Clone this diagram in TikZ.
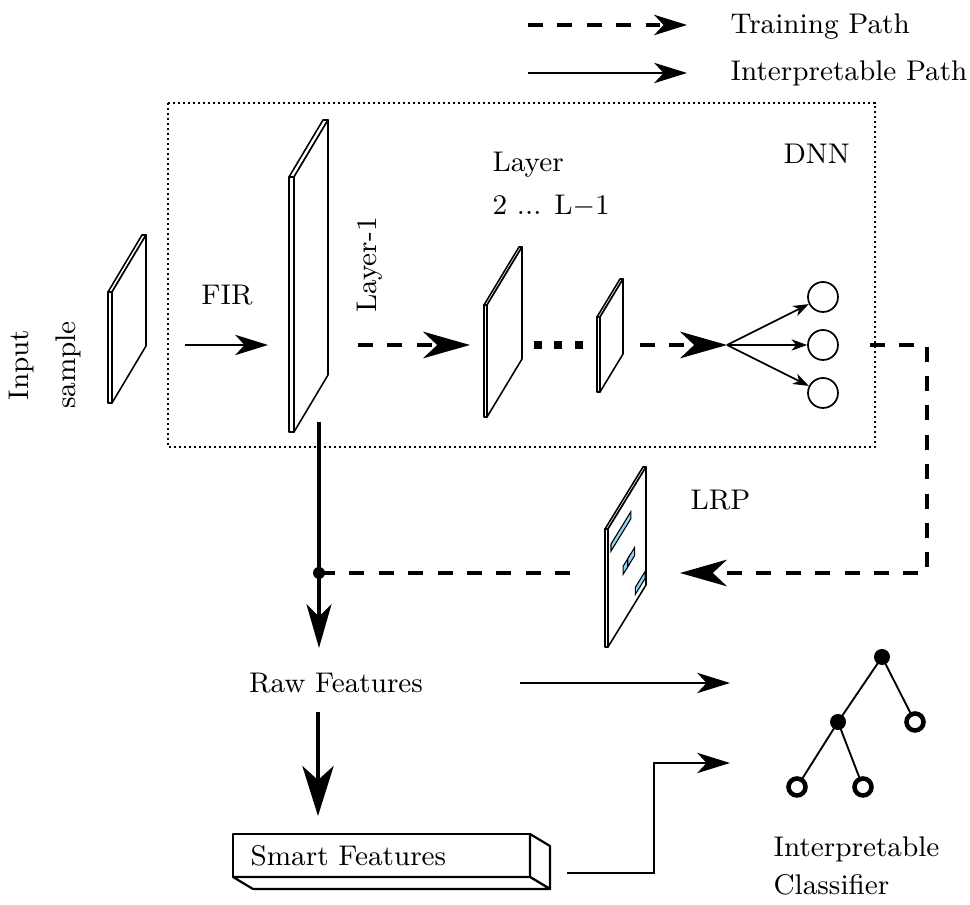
\documentclass[tikz,border=0pt]{standalone}
\usetikzlibrary{arrows.meta}
\begin{document}
% thin slab in oblique view: front x, thickness, top y, bottom y, depth dx, depth dy
\newcommand{\drawslab}[6]{%
  \draw[slab] (#1,#3) rectangle ({#1+#2},#4);
  \draw[slab] (#1,#3) -- ({#1+#5},{#3-#6}) -- ({#1+#2+#5},{#3-#6}) -- ({#1+#2},#3) -- cycle;
  \draw[slab] ({#1+#2},#3) -- ({#1+#2+#5},{#3-#6}) -- ({#1+#2+#5},{#4-#6}) -- ({#1+#2},#4) -- cycle;
}
\begin{tikzpicture}[x=0.32pt,y=-0.32pt,
  slab/.style={draw=black, line width=0.5pt, fill=white, line join=round},
  thinline/.style={line width=0.55pt},
  heavy/.style={line width=1.1pt},
  trainpath/.style={heavy, dash pattern=on 4.8pt off 4.6pt},
  bighead/.style={-{Stealth[length=15pt,width=8.5pt,inset=4.5pt]}},
  midhead/.style={-{Stealth[length=10.5pt,width=6.5pt,inset=3pt]}},
  smallhead/.style={-{Stealth[length=5pt,width=3.6pt,inset=1.5pt]}},
  lbl/.style={inner sep=0pt, font=\fontsize{9.1}{11}\selectfont},
  outc/.style={circle, draw, line width=0.55pt, minimum size=9.6pt, inner sep=0pt},
  leaf/.style={draw, line width=1.45pt},
]
\useasboundingbox (0,0) rectangle (970,905);

% legend
\coordinate (lg1a) at (528,25);  \coordinate (lg1b) at (687,25);
\coordinate (lg2a) at (528,73);  \coordinate (lg2b) at (687,73);
\draw[trainpath, midhead] (lg1a) -- (lg1b);
\draw[thinline, line width=0.7pt, midhead] (lg2a) -- (lg2b);
\node[lbl, anchor=base west] (lgt1) at (730,34) {Training Path};
\node[lbl, anchor=base west] (lgt2) at (730,81) {Interpretable Path};

% network frame
\draw[line width=0.8pt, dash pattern=on 0.8pt off 0.8pt] (168,103) rectangle (875,447);
\node[lbl, anchor=base west] (dnn) at (783,164) {DNN};

% slabs
\drawslab{108}{4}{292}{403}{34}{57}
\drawslab{289}{5}{177}{432}{34}{57}
\drawslab{484}{3}{305}{417}{35}{58}
\drawslab{597}{3}{317}{392}{23}{38}
\drawslab{605}{3}{529}{647}{38}{62}

% relevance patches on the LRP map
\begin{scope}[shift={(608,529)}]
  \tikzset{patch/.style={draw=black, line width=0.35pt, fill=cyan!45!white}}
  \draw[patch] (0.08*38,-0.08*62+20) -- (0.6*38,-0.6*62+20) -- (0.6*38,-0.6*62+27) -- (0.08*38,-0.08*62+27) -- cycle;
  \draw[patch] (0.40*38,-0.40*62+62) -- (0.56*38,-0.56*62+62) -- (0.56*38,-0.56*62+70) -- (0.40*38,-0.40*62+70) -- cycle;
  \draw[patch] (0.52*38,-0.52*62+62) -- (0.70*38,-0.70*62+62) -- (0.70*38,-0.70*62+70) -- (0.52*38,-0.52*62+70) -- cycle;
  \draw[patch] (0.72*38,-0.72*62+103) -- (0.98*38,-0.98*62+103) -- (0.98*38,-0.98*62+110) -- (0.72*38,-0.72*62+110) -- cycle;
\end{scope}

% labels of the network
\node[lbl, align=center, rotate=90] (inp) at (45,365) {Input\\[4pt]sample};
\node[lbl, anchor=base] (fir) at (227,305) {FIR};
\node[lbl, rotate=90] (l1) at (370,265) {Layer-1};
\node[lbl, anchor=base west] (lay) at (492,172) {Layer};
\node[lbl, anchor=base west] (lay2) at (492,215) {2 ... L$-$1};
\node[lbl, anchor=base west] (lrp) at (690,510) {LRP};

% forward path
\coordinate (firA) at (185,345); \coordinate (firB) at (268,345);
\draw[thinline, line width=0.7pt, midhead] (firA) -- (firB);
\coordinate (d1a) at (358,345); \coordinate (d1b) at (470,345);
\draw[trainpath, bighead] (d1a) -- (d1b);
\foreach \x in {538,558,579} \fill (\x-3.6,341.4) rectangle (\x+3.6,348.6);
\coordinate (d2a) at (640,345); \coordinate (hub) at (727,345);
\draw[trainpath, bighead] (d2a) -- (hub);

% output units
\node[outc] (o1) at (823,297) {};
\node[outc] (o2) at (823,345) {};
\node[outc] (o3) at (823,393) {};
\foreach \o in {o1,o2,o3} \draw[thinline, smallhead] (hub) -- (\o);

% relevance feedback
\coordinate (fb0) at (870,345); \coordinate (fb1) at (927,345);
\coordinate (fb2) at (927,573); \coordinate (fb3) at (680,573);
\draw[trainpath, bighead] (fb0) -- (fb1) -- (fb2) -- (fb3);
\coordinate (jn) at (319,573); \coordinate (fb4) at (570,573);
\draw[trainpath] (fb4) -- (jn);

% feature extraction
\coordinate (v0) at (319,422);
\node[lbl, anchor=base] (raw) at (336,693) {Raw Features};
\draw[heavy, -{Stealth[length=14pt,width=8pt,inset=4pt]}] (v0) -- (319,648);
\fill (jn) circle (6);
\coordinate (v1) at (318,712); \coordinate (v2) at (318,816);
\draw[heavy, -{Stealth[length=16pt,width=10pt,inset=4.5pt]}] (v1) -- (v2);

% smart features prism
\draw[slab, line width=0.7pt] (233,834) rectangle (530,877);
\draw[slab, line width=0.7pt] (530,834) -- (550,846) -- (550,889) -- (530,877) -- cycle;
\draw[slab, line width=0.7pt] (233,877) -- (253,889) -- (550,889) -- (530,877) -- cycle;
\node[lbl, anchor=base west] (smart) at (250,866) {Smart Features};
\coordinate (sf) at (567,873);

% classifier inputs
\coordinate (rawA) at (520,683); \coordinate (rawB) at (730,683);
\draw[thinline, line width=0.7pt, midhead] (rawA) -- (rawB);
\coordinate (sfB) at (730,763);
\draw[thinline, line width=0.7pt, midhead] (sf) -- (654,873) -- (654,763) -- (sfB);

% decision tree
\coordinate (t0) at (882,657);
\coordinate (t1) at (838,722);
\coordinate (t2) at (915,722);
\coordinate (t3) at (797,787);
\coordinate (t4) at (863,787);
\draw[thinline, line width=0.6pt] (t0) -- (t1) (t0) -- (t2) (t1) -- (t3) (t1) -- (t4);
\fill (t0) circle (8);
\fill (t1) circle (8);
\foreach \t in {t2,t3,t4} {
  \fill[white] (\t) circle (6);
  \draw[leaf] (\t) circle (8.5);
}
\node[lbl, anchor=base west] (cls) at (773,857) {Interpretable};
\node[lbl, anchor=base west] (cls2) at (773,895) {Classifier};
\end{tikzpicture}
\end{document}
